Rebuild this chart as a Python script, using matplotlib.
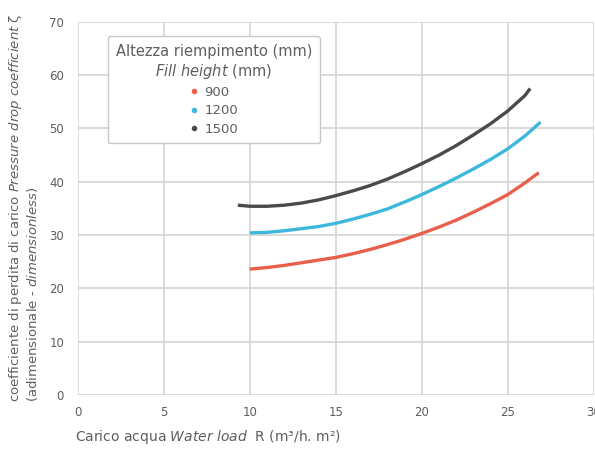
import matplotlib.pyplot as plt
from matplotlib.lines import Line2D

# values
heights = ["900", "1200", "1500"]
colors = ["#e8604c", "#3db8dc", "#4a4a4a"]

x_900 = [10, 11, 12, 13, 14, 15, 16, 17, 18, 19, 20, 21, 22, 23, 24, 25, 26, 26.8]
y_900 = [23.6, 23.9, 24.3, 24.8, 25.3, 25.8, 26.5, 27.3, 28.2, 29.2, 30.3, 31.5,
         32.8, 34.3, 35.9, 37.6, 39.8, 41.7]

x_1200 = [10, 11, 12, 13, 14, 15, 16, 17, 18, 19, 20, 21, 22, 23, 24, 25, 26, 26.9]
y_1200 = [30.4, 30.5, 30.8, 31.2, 31.6, 32.2, 33.0, 33.9, 34.9, 36.2, 37.6, 39.1,
          40.7, 42.4, 44.2, 46.2, 48.6, 51.2]

x_1500 = [9.3, 10, 11, 12, 13, 14, 15, 16, 17, 18, 19, 20, 21, 22, 23, 24, 25, 26, 26.3]
y_1500 = [35.6, 35.4, 35.4, 35.6, 36.0, 36.6, 37.4, 38.3, 39.3, 40.5, 41.9, 43.4,
          45.0, 46.8, 48.8, 50.9, 53.3, 56.2, 57.5]

x_ticks = [0, 5, 10, 15, 20, 25, 30]
y_ticks = [0, 10, 20, 30, 40, 50, 60, 70]

TXT = "#5e5e5e"
GRID = "#d4d4d4"

fig = plt.figure(figsize=(5.95, 4.57), dpi=100)
ax = fig.add_axes([0.131, 0.136, 0.867, 0.816])

series = [(x_900, y_900), (x_1200, y_1200), (x_1500, y_1500)]
for (xs, ys), c in zip(series, colors):
    ax.plot(xs, ys, color=c, lw=2.4, solid_capstyle="butt",
            solid_joinstyle="round", zorder=3)

ax.set_xlim(0, 30)
ax.set_ylim(0, 70)
ax.set_xticks(x_ticks)
ax.set_yticks(y_ticks)
ax.grid(True, color=GRID, lw=1.2)
ax.set_axisbelow(True)
for s in ax.spines.values():
    s.set_visible(False)
ax.tick_params(length=0, labelsize=8.5, labelcolor=TXT, pad=8)
ax.tick_params(axis="y", pad=10)

fig.text(0.126, 0.035, r"Carico acqua $\it{Water\ load}$  R (m³/h. m²)",
         fontsize=10, color=TXT, ha="left", va="baseline")

fig.text(0.040, 0.12,
         "coefficiente di perdita di carico $\\it{Pressure\\ drop\\ coefficient}$ ζ\n"
         "(adimensionale - $\\it{dimensionless}$)",
         rotation=90, fontsize=9.5, color=TXT, ha="center", va="bottom",
         multialignment="left", linespacing=1.1)

handles = [Line2D([], [], marker="o", ls="none", color=c, markersize=3)
           for c in colors]
leg = ax.legend(handles, heights,
                title="Altezza riempimento (mm)\n$\\it{Fill\\ height}$ (mm)",
                loc="upper left", bbox_to_anchor=(0.045, 0.98),
                fontsize=9.5, title_fontsize=10.5, handlelength=0.6,
                handletextpad=0.5, labelspacing=0.4, borderpad=0.6,
                frameon=True, fancybox=True, framealpha=1, edgecolor="#c8c8c8")
for t in leg.get_texts():
    t.set_color(TXT)
leg.get_title().set_color(TXT)
leg.get_title().set_multialignment("center")

plt.savefig("out.png", dpi=100)
